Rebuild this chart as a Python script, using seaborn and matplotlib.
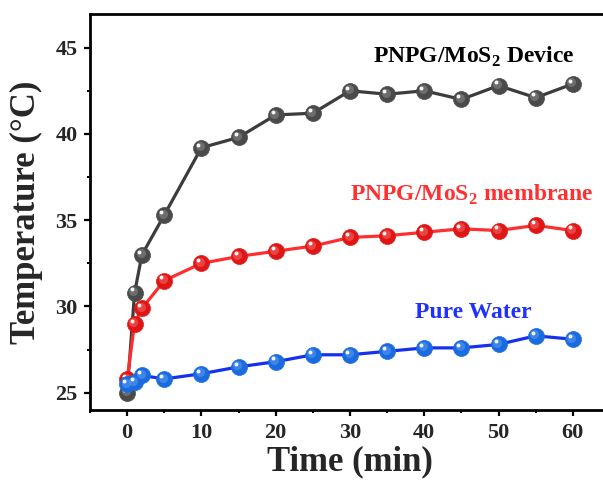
import numpy as np
import pandas as pd
import matplotlib
matplotlib.use("Agg")
import matplotlib.pyplot as plt
import matplotlib.transforms as mtransforms
from matplotlib.ticker import MultipleLocator
import seaborn as sns

# Irradiation time (min)
time_min = [0, 1, 2, 5, 10, 15, 20, 25, 30, 35, 40, 45, 50, 55, 60]

# Surface temperature (°C)
temp_device = [25.0, 30.8, 33.0, 35.3, 39.2, 39.8, 41.1, 41.2, 42.5, 42.3,
               42.5, 42.0, 42.8, 42.1, 42.9]
temp_membrane = [25.8, 29.0, 29.9, 31.5, 32.5, 32.9, 33.2, 33.5, 34.0, 34.1,
                 34.3, 34.5, 34.4, 34.7, 34.4]
temp_water = [25.5, 25.6, 26.0, 25.8, 26.1, 26.5, 26.8, 27.2, 27.2, 27.4,
              27.6, 27.6, 27.8, 28.3, 28.1]

x_ticks = [0, 10, 20, 30, 40, 50, 60]
y_ticks = [25, 30, 35, 40, 45]

sns.set_theme(style="ticks")
plt.rcParams["font.family"] = ["Liberation Serif", "DejaVu Serif"]
plt.rcParams["mathtext.fontset"] = "custom"
plt.rcParams["mathtext.rm"] = "Liberation Serif:bold"
plt.rcParams["mathtext.bf"] = "Liberation Serif:bold"

fig = plt.figure(figsize=(6.03, 4.86), dpi=100)
ax = fig.add_axes([90 / 603, 76 / 486, 520 / 603, 396 / 486])

series = [
    ("PNPG/MoS$_2$ Device", temp_device, "#3c3c3c", "#4a4a4a", "#8a8a8a"),
    ("PNPG/MoS$_2$ membrane", temp_membrane, "#ff2e2e", "#e01616", "#f06a6a"),
    ("Pure Water", temp_water, "#1530f0", "#1a6be0", "#5f9cf0"),
]

shade = mtransforms.offset_copy(ax.transData, fig=fig, x=-1.4, y=1.4, units="dots")
glint = mtransforms.offset_copy(ax.transData, fig=fig, x=-3.0, y=3.2, units="dots")

for i, (name, temps, line_c, marker_c, light_c) in enumerate(series):
    df = pd.DataFrame({"Time (min)": time_min, "Temperature": temps})
    sns.lineplot(data=df, x="Time (min)", y="Temperature", ax=ax,
                 color=line_c, linewidth=2.3, marker="o", markersize=11.5,
                 markerfacecolor=marker_c, markeredgecolor=marker_c,
                 markeredgewidth=0.5, zorder=3 + i)
    # sphere shading: soft lighter core plus a small specular glint
    ax.plot(time_min, temps, linestyle="none", marker="o", markersize=6.5,
            markerfacecolor=light_c, markeredgewidth=0, alpha=0.55,
            transform=shade, zorder=3 + i)
    ax.plot(time_min, temps, linestyle="none", marker="o", markersize=2.8,
            markerfacecolor="white", markeredgewidth=0, alpha=0.95,
            transform=glint, zorder=3 + i)

ax.set_xlim(-5, 65)
ax.set_ylim(24.0, 46.95)
ax.set_xticks(x_ticks)
ax.set_yticks(y_ticks)
ax.xaxis.set_minor_locator(MultipleLocator(5))
ax.yaxis.set_minor_locator(MultipleLocator(2.5))

ax.set_xlabel("Time (min)", fontsize=25, fontweight="bold", labelpad=2)
ax.set_ylabel("Temperature (°C)", fontsize=25, fontweight="bold", labelpad=9)

for lab in ax.get_xticklabels() + ax.get_yticklabels():
    lab.set_fontweight("bold")
    lab.set_fontsize(16)

ax.tick_params(which="major", direction="out", length=4, width=1.6,
               color="black", pad=5)
ax.tick_params(which="minor", direction="out", length=2.2, width=1.4,
               color="black")
for side in ["left", "bottom", "top", "right"]:
    ax.spines[side].set_visible(True)
    ax.spines[side].set_linewidth(2.0)
    ax.spines[side].set_color("black")

ax.text(46.6, 44.1, "PNPG/MoS$_2$ Device", color="black", fontsize=17,
        fontweight="bold", ha="center", va="baseline")
ax.text(46.4, 36.15, "PNPG/MoS$_2$ membrane", color="#ff3030", fontsize=17,
        fontweight="bold", ha="center", va="baseline")
ax.text(46.6, 29.35, "Pure Water", color="#2030ff", fontsize=17,
        fontweight="bold", ha="center", va="baseline")

fig.savefig("out.png", dpi=100, facecolor="white")
